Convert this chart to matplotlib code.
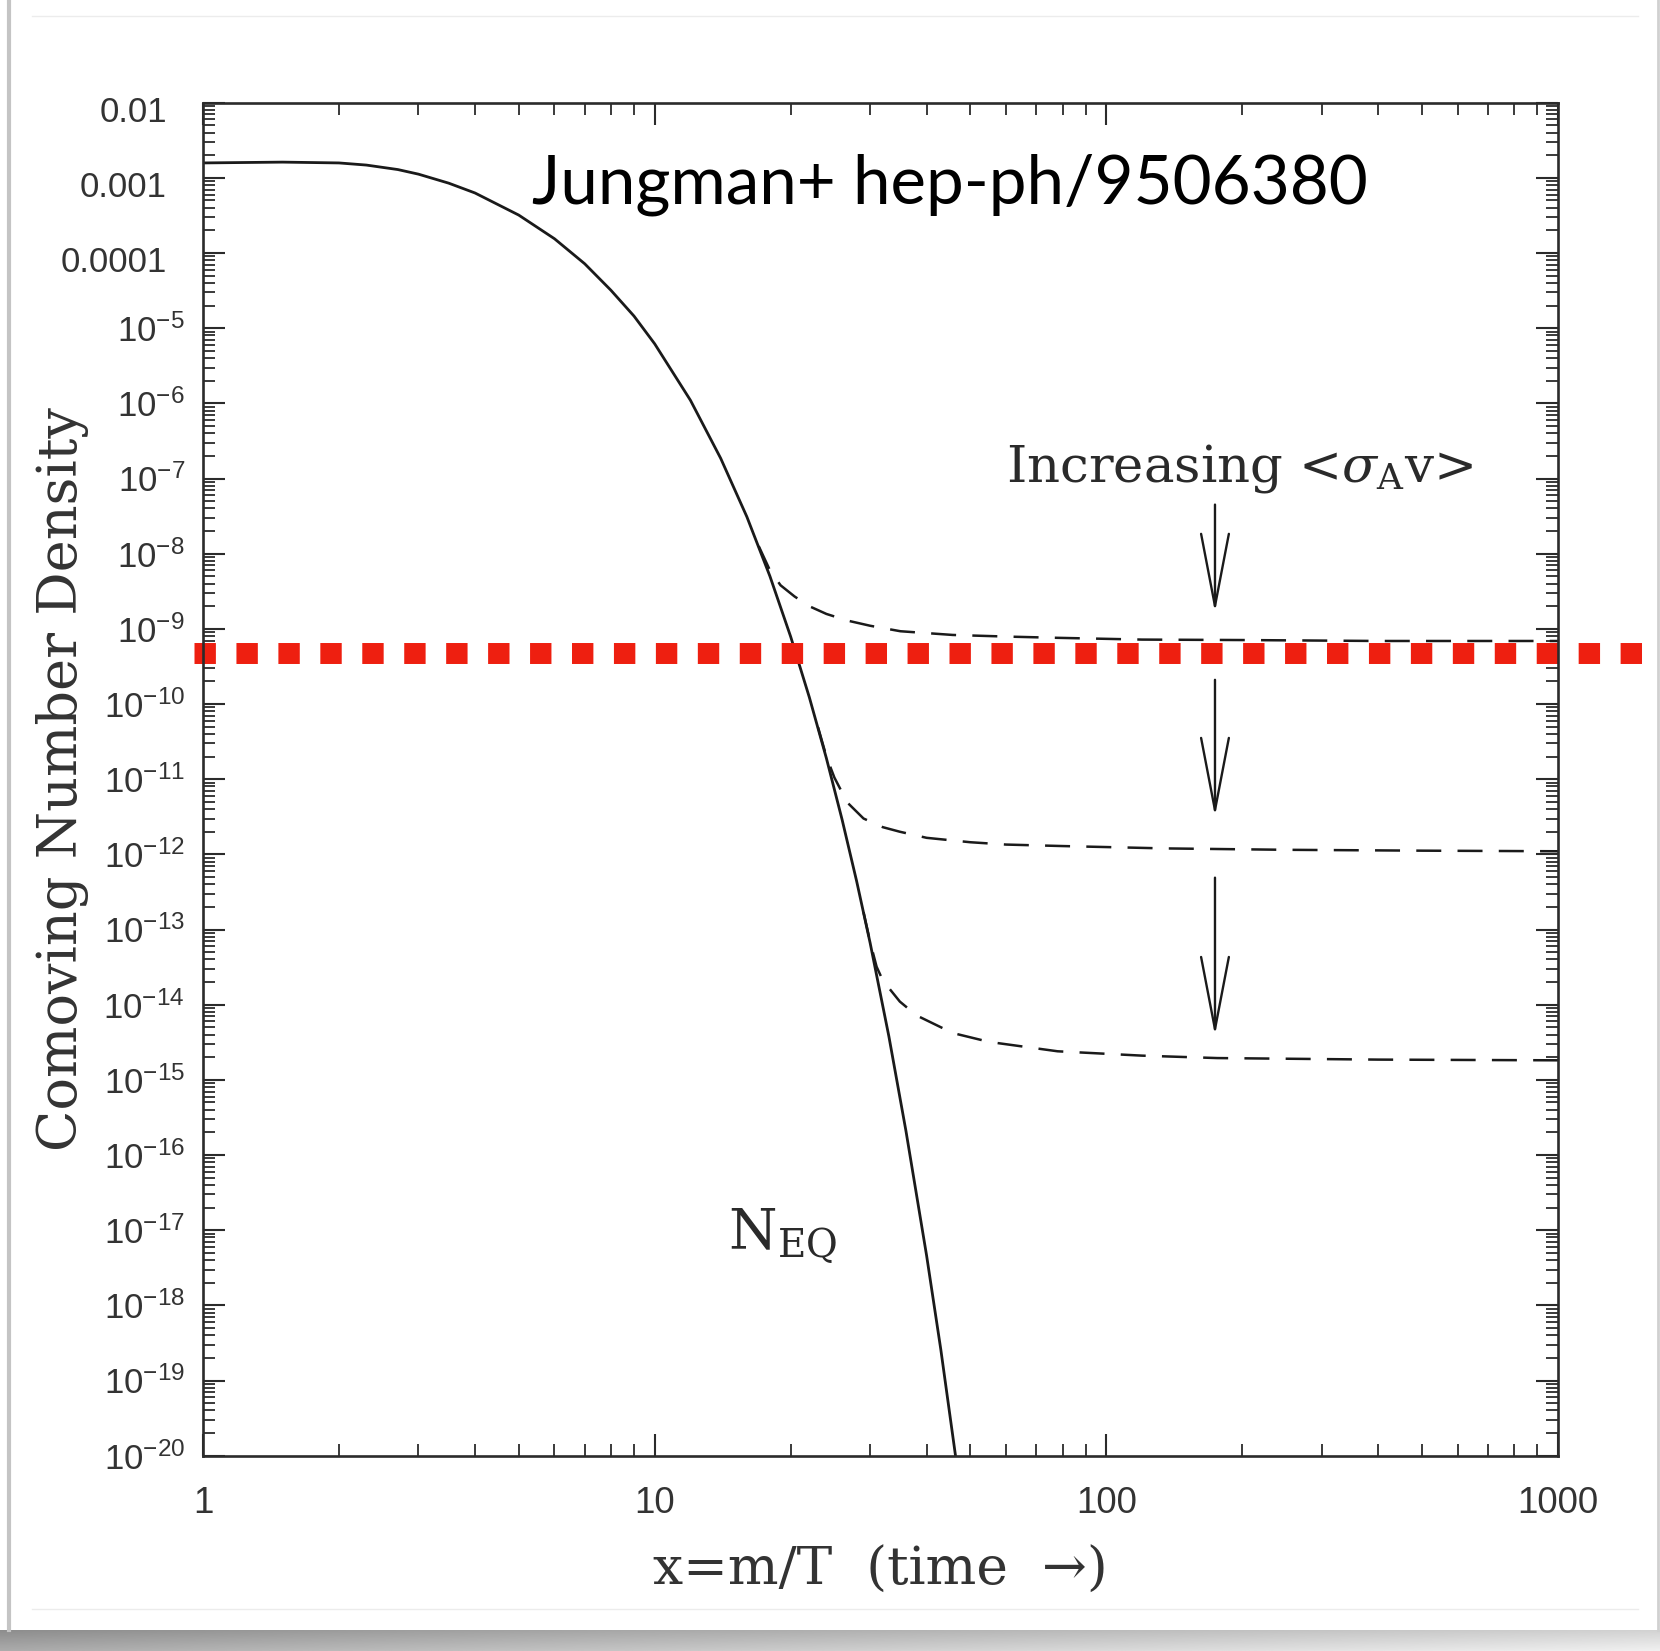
import numpy as np
import matplotlib
matplotlib.use("Agg")
import matplotlib.pyplot as plt
from matplotlib.ticker import LogLocator, NullFormatter
from matplotlib.transforms import ScaledTranslation, blended_transform_factory
from matplotlib.lines import Line2D

# equilibrium number density N_EQ
neq_x = [1.0, 1.5, 2.0, 2.3, 2.7, 3.0, 3.5, 4, 5, 6, 7, 8, 9, 10, 12, 14, 16,
         18, 20, 22, 24, 26, 28, 30, 33, 36, 40, 43, 46.5]
neq_y = [1.58e-3, 1.62e-3, 1.58e-3, 1.48e-3, 1.29e-3, 1.12e-3, 8.5e-4, 6.3e-4,
         3.2e-4, 1.55e-4, 7.2e-5, 3.2e-5, 1.45e-5, 6.2e-6, 1.1e-6, 1.86e-7,
         3.1e-8, 5.0e-9, 7.9e-10, 1.23e-10, 1.9e-11, 2.9e-12, 4.4e-13, 6.6e-14,
         3.8e-15, 2.1e-16, 4.6e-18, 2.6e-19, 8.7e-21]

# freeze-out curves (dashed), top to bottom
fo1_x = [17, 18, 19, 20.4, 22, 24, 26.7, 30, 35, 45.7, 60, 78, 120, 200, 400, 1000]
fo1_y = [1.26e-8, 6.0e-9, 3.8e-9, 2.7e-9, 2.0e-9, 1.58e-9, 1.29e-9, 1.10e-9,
         9.3e-10, 8.3e-10, 7.9e-10, 7.6e-10, 7.2e-10, 7.1e-10, 6.9e-10, 6.9e-10]
fo2_x = [23, 24, 25, 26.7, 29, 32, 34.9, 40, 50, 60, 80, 135, 250, 500, 1000]
fo2_y = [4.9e-11, 2.0e-11, 1.05e-11, 4.9e-12, 3.0e-12, 2.3e-12, 2.0e-12, 1.66e-12,
         1.45e-12, 1.35e-12, 1.29e-12, 1.20e-12, 1.15e-12, 1.12e-12, 1.10e-12]
fo3_x = [29, 30, 31, 32, 34.9, 38, 45.7, 55, 78, 120, 176, 400, 1000]
fo3_y = [1.7e-13, 6.8e-14, 3.2e-14, 2.1e-14, 1.1e-14, 7.2e-15, 4.2e-15, 3.2e-15,
         2.4e-15, 2.1e-15, 1.95e-15, 1.86e-15, 1.82e-15]

# arrows "increasing <sigma v>"
arrow_x = 174
arrow_tails = [4.5e-8, 2.1e-10, 4.9e-13]
arrow_tips = [1.66e-9, 3.2e-12, 3.9e-15]

# red dotted overlay line
red_y = 4.8e-10

xtick_vals = [1, 10, 100, 1000]
xtick_labels = ['1', '10', '100', '1000']
ytick_vals = [1e-2, 1e-3, 1e-4, 1e-5, 1e-6, 1e-7, 1e-8, 1e-9, 1e-10, 1e-11,
              1e-12, 1e-13, 1e-14, 1e-15, 1e-16, 1e-17, 1e-18, 1e-19, 1e-20]
ytick_labels = ['0.01', '0.001', '0.0001', r'$10^{-5}$', r'$10^{-6}$', r'$10^{-7}$',
                r'$10^{-8}$', r'$10^{-9}$', r'$10^{-10}$', r'$10^{-11}$', r'$10^{-12}$',
                r'$10^{-13}$', r'$10^{-14}$', r'$10^{-15}$', r'$10^{-16}$',
                r'$10^{-17}$', r'$10^{-18}$', r'$10^{-19}$', r'$10^{-20}$']

plt.rcParams['mathtext.fontset'] = 'custom'
plt.rcParams['mathtext.rm'] = 'Liberation Sans'
plt.rcParams['mathtext.it'] = 'Liberation Sans:italic'
plt.rcParams['mathtext.bf'] = 'Liberation Sans:bold'

W, H = 1660, 1651
fig = plt.figure(figsize=(W / 100, H / 100), dpi=100)
fig.patch.set_facecolor('white')

ax = fig.add_axes([203 / W, 1 - 1455.7 / H, 1355 / W, 1353 / H])
ax.set_xscale('log')
ax.set_yscale('log')
ax.set_xlim(1, 1000)
ax.set_ylim(1e-20, 1e-2)

ink = '#1a1a1a'
ax.plot(neq_x, neq_y, color=ink, lw=2.0)
for fx, fy in [(fo1_x, fo1_y), (fo2_x, fo2_y), (fo3_x, fo3_y)]:
    ln, = ax.plot(fx, fy, color=ink, lw=1.8)
    ln.set_dashes((10, 6.5))

for tail, tip in zip(arrow_tails, arrow_tips):
    ax.annotate('', xy=(arrow_x, tip), xytext=(arrow_x, tail),
                arrowprops=dict(arrowstyle='->,head_length=2.6,head_width=0.5',
                                lw=1.7, color=ink, shrinkA=0, shrinkB=0,
                                mutation_scale=20))

# red dotted line, runs past the frame to the image edge
trans = blended_transform_factory(ax.transAxes, ax.transData)
red, = ax.plot([-0.0068, 1.08], [red_y, red_y], transform=trans, clip_on=False,
               color='#ee1f10', lw=15.1, solid_capstyle='butt')
red.set_dashes((1.02, 0.98))
red.set_dash_capstyle('butt')

# ticks
for s in ax.spines.values():
    s.set_linewidth(1.9)
    s.set_color('#2b2b2b')
ax.set_xticks(xtick_vals)
ax.set_xticklabels(xtick_labels, fontfamily='Liberation Sans', fontsize=26.5)
ax.xaxis.set_minor_locator(LogLocator(base=10, subs=np.arange(2, 10), numticks=100))
ax.xaxis.set_minor_formatter(NullFormatter())
ax.set_yticks(ytick_vals)
ax.yaxis.set_minor_locator(LogLocator(base=10, subs=np.arange(2, 10), numticks=200))
ax.yaxis.set_minor_formatter(NullFormatter())
ax.tick_params(which='both', direction='in', top=True, right=True,
               color='#2b2b2b', labelcolor='#333333')
ax.tick_params(which='major', length=16, width=1.5)
ax.tick_params(which='minor', length=8.5, width=1.3)
ax.tick_params(axis='x', which='major', pad=22)
ax.tick_params(axis='y', which='major', pad=13)
ax.set_yticklabels(ytick_labels, fontfamily='Liberation Sans', fontsize=25)
for i, lab in enumerate(ax.get_yticklabels()):
    if i < 3:
        lab.set_transform(lab.get_transform() +
                          ScaledTranslation(-0.18, -0.06, fig.dpi_scale_trans))

serif = 'DejaVu Serif'
ax.set_ylabel('Comoving Number Density', fontfamily=serif, fontsize=39, color='#333333')
ax.yaxis.set_label_coords(-0.093, 0.5)
ax.yaxis.label.set_verticalalignment('baseline')
ax.set_xlabel('x=m/T  (time  \u2192)', fontfamily=serif, fontsize=38.5, color='#333333')
ax.xaxis.set_label_coords(0.5, -0.0956)
ax.xaxis.label.set_verticalalignment('baseline')

ax.text(60, 9.1e-8, r'Increasing <$\sigma_{\rm A}$v>', fontfamily=serif, fontsize=37,
        color='#2a2a2a', ha='left', va='baseline', math_fontfamily='dejavuserif')
ax.text(14.5, 5.6e-18, r'N$_{\rm EQ}$', fontfamily=serif, fontsize=40,
        color='#2a2a2a', ha='left', va='baseline', math_fontfamily='dejavuserif')

fig.text(532 / W, 1 - 204 / H, 'Jungman+ hep-ph/9506380', fontfamily='Lato',
         fontsize=48.5, color='black', ha='left', va='baseline')

# card edges and bottom shadow
fig.add_artist(Line2D([9 / W, 9 / W], [1 - 1630 / H, 1], transform=fig.transFigure,
                      color='#c4c4c4', lw=3))
fig.add_artist(Line2D([1658 / W, 1658 / W], [1 - 1630 / H, 1], transform=fig.transFigure,
                      color='#d0d0d0', lw=2))
fig.add_artist(Line2D([32 / W, 1638 / W], [1 - 16 / H, 1 - 16 / H],
                      transform=fig.transFigure, color='#ececec', lw=1))
fig.add_artist(Line2D([32 / W, 1638 / W], [1 - 1609 / H, 1 - 1609 / H],
                      transform=fig.transFigure, color='#ececec', lw=1))
sh = fig.add_axes([0, 0, 1, 21 / H])
gx = np.linspace(0.55, 0.82, 200)[None, :]
gy = np.linspace(0.0, 0.12, 20)[:, None]
sh.imshow(np.clip(gx + gy, 0, 1), cmap='gray', vmin=0, vmax=1, aspect='auto',
          extent=[0, 1, 0, 1], origin='upper')
sh.axis('off')

fig.savefig('out.png', dpi=100)
